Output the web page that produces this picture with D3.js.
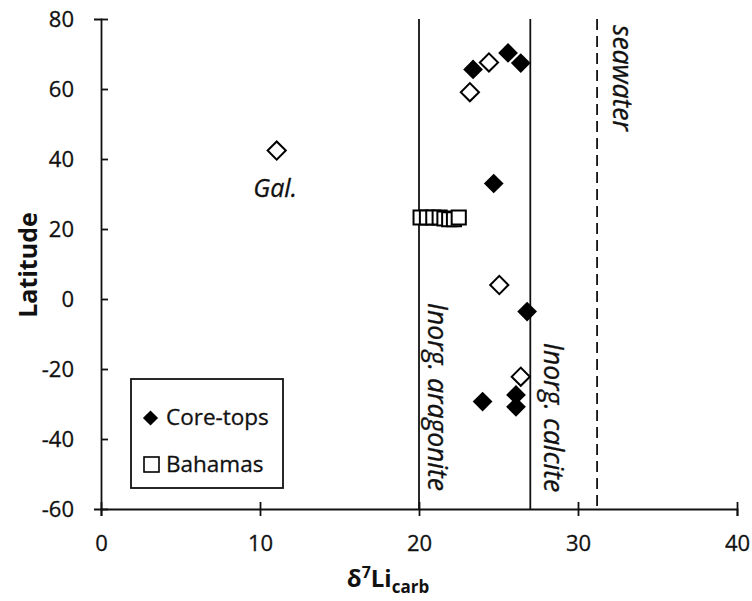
<!DOCTYPE html>
<html>
<head>
<meta charset="utf-8">
<script src="https://cdn.jsdelivr.net/npm/d3@7"></script>
<style>
body { margin: 0; background: #fff; }
svg text { font-family: "Open Sans", sans-serif; fill: #111; }
</style>
</head>
<body>
<div id="chart"></div>
<script>
// core-top samples, filled diamonds
var coreX = [23.4, 25.6, 26.4, 24.7, 26.8, 24.0, 26.1, 26.1];
var coreLat = [65.6, 70.3, 67.4, 33.0, -3.6, -29.3, -27.4, -30.8];

// other samples, open diamonds
var openX = [24.4, 23.2, 11.05, 25.05, 26.4];
var openLat = [67.6, 59.1, 42.4, 4.0, -22.2];

// Bahamas, open squares
var bahX = [20.1, 20.5, 20.9, 21.3, 21.6, 21.9, 22.2, 22.5];
var bahLat = [23.3, 23.3, 23.3, 23.3, 23.0, 22.8, 22.8, 23.3];

var xTicks = [0, 10, 20, 30, 40];
var yTicks = [80, 60, 40, 20, 0, -20, -40, -60];

// reference lines, label starts at lat
var refLines = [
	{v: 20, dash: null, label: "Inorg. aragonite", lat: -1.1},
	{v: 27, dash: null, label: "Inorg. calcite", lat: -12.5},
	{v: 31.2, dash: "11,6", label: "seawater", lat: 78.3}
];

function init(){
	var w = 752, h = 601;
	var left = 101, right = 737, top = 19, bottom = 509;
	var labelGap = [9, 14, 16];

	var x = d3.scaleLinear().domain([0, 40]).range([left, right]);
	var y = d3.scaleLinear().domain([-60, 80]).range([bottom, top]);

	var svg = d3.select("#chart").append("svg")
				.attr("width", w)
				.attr("height", h);

	// reference lines
	svg.selectAll("line.ref")
		.data(refLines)
		.enter()
		.append("line")
		.attr("x1", function(d){ return x(d.v); })
		.attr("x2", function(d){ return x(d.v); })
		.attr("y1", top)
		.attr("y2", bottom)
		.attr("stroke", "#111")
		.attr("stroke-width", 1.8)
		.attr("stroke-dasharray", function(d){ return d.dash; });

	svg.selectAll("text.ref")
		.data(refLines)
		.enter()
		.append("text")
		.attr("transform", function(d, i){
			return "translate(" + (x(d.v) + labelGap[i]) + "," + y(d.lat) + ") rotate(90)";
		})
		.attr("font-size", 26.5)
		.attr("font-style", "italic")
		.attr("stroke", "#111")
		.attr("stroke-width", 0.3)
		.text(function(d){ return d.label; });

	// axes
	var fmt = function(d){ return String(d); };
	var xAxis = svg.append("g")
		.attr("transform", "translate(0," + bottom + ")")
		.call(d3.axisBottom(x).tickValues(xTicks).tickFormat(fmt).tickSize(7).tickPadding(19));
	var yAxis = svg.append("g")
		.attr("transform", "translate(" + left + ",0)")
		.call(d3.axisLeft(y).tickValues(yTicks).tickFormat(fmt).tickSize(7).tickPadding(20));

	[xAxis, yAxis].forEach(function(g){
		g.select(".domain").attr("stroke", "#111").attr("stroke-width", 1.8);
		g.selectAll(".tick line").attr("stroke", "#111").attr("stroke-width", 1.8);
		g.selectAll(".tick text").attr("font-size", 22).attr("fill", "#111")
			.attr("stroke", "#111").attr("stroke-width", 0.3)
			.style("font-family", "'Open Sans', sans-serif");
	});
	xAxis.selectAll(".tick line").attr("y1", -7);
	yAxis.selectAll(".tick line").attr("x2", 7);

	// axis titles
	svg.append("text")
		.attr("transform", "translate(37," + y(9.7) + ") rotate(-90)")
		.attr("text-anchor", "middle")
		.attr("font-size", 25)
		.attr("font-weight", "bold")
		.text("Latitude");

	var xt = svg.append("text")
		.attr("x", 388)
		.attr("y", 587)
		.attr("text-anchor", "middle")
		.attr("font-size", 24)
		.attr("font-weight", "bold");
	xt.append("tspan").text("δ");
	xt.append("tspan").attr("font-size", 16).attr("dy", -9).text("7");
	xt.append("tspan").attr("dy", 9).text("Li");
	xt.append("tspan").attr("font-size", 17).attr("dy", 6).text("carb");

	var square = d3.symbol().type(d3.symbolSquare).size(200);

	// Bahamas squares
	svg.selectAll("path.bah")
		.data(d3.range(bahX.length))
		.enter()
		.append("path")
		.attr("d", square)
		.attr("transform", function(i){
			return "translate(" + x(bahX[i]) + "," + y(bahLat[i]) + ")";
		})
		.attr("fill", "#fff")
		.attr("stroke", "#000")
		.attr("stroke-width", 2);

	// open diamonds
	svg.selectAll("path.open")
		.data(d3.range(openX.length))
		.enter()
		.append("path")
		.attr("d", d3.symbol().type(d3.symbolSquare).size(165))
		.attr("transform", function(i){
			return "translate(" + x(openX[i]) + "," + y(openLat[i]) + ") rotate(45)";
		})
		.attr("fill", "#fff")
		.attr("stroke", "#000")
		.attr("stroke-width", 2);

	// filled diamonds
	svg.selectAll("path.core")
		.data(d3.range(coreX.length))
		.enter()
		.append("path")
		.attr("d", d3.symbol().type(d3.symbolSquare).size(195))
		.attr("transform", function(i){
			return "translate(" + x(coreX[i]) + "," + y(coreLat[i]) + ") rotate(45)";
		})
		.attr("fill", "#000");

	// Gal. label
	svg.append("text")
		.attr("x", x(10.95))
		.attr("y", y(29.1))
		.attr("text-anchor", "middle")
		.attr("font-size", 25)
		.attr("font-style", "italic")
		.attr("stroke", "#111")
		.attr("stroke-width", 0.3)
		.text("Gal.");

	// legend
	var lg = svg.append("g");
	lg.append("rect")
		.attr("x", 131).attr("y", 379)
		.attr("width", 152).attr("height", 109)
		.attr("fill", "#fff")
		.attr("stroke", "#111")
		.attr("stroke-width", 1.8);
	lg.append("path")
		.attr("d", d3.symbol().type(d3.symbolSquare).size(115))
		.attr("transform", "translate(150.5,418) rotate(45)")
		.attr("fill", "#000");
	lg.append("rect")
		.attr("x", 144).attr("y", 457)
		.attr("width", 15).attr("height", 15)
		.attr("fill", "#fff")
		.attr("stroke", "#000")
		.attr("stroke-width", 1.6);
	lg.append("text").attr("x", 166).attr("y", 425).attr("font-size", 22.5)
		.attr("stroke", "#111").attr("stroke-width", 0.3).text("Core-tops");
	lg.append("text").attr("x", 166).attr("y", 472).attr("font-size", 22.5)
		.attr("stroke", "#111").attr("stroke-width", 0.3).text("Bahamas");
}

window.onload = init;
</script>
</body>
</html>
